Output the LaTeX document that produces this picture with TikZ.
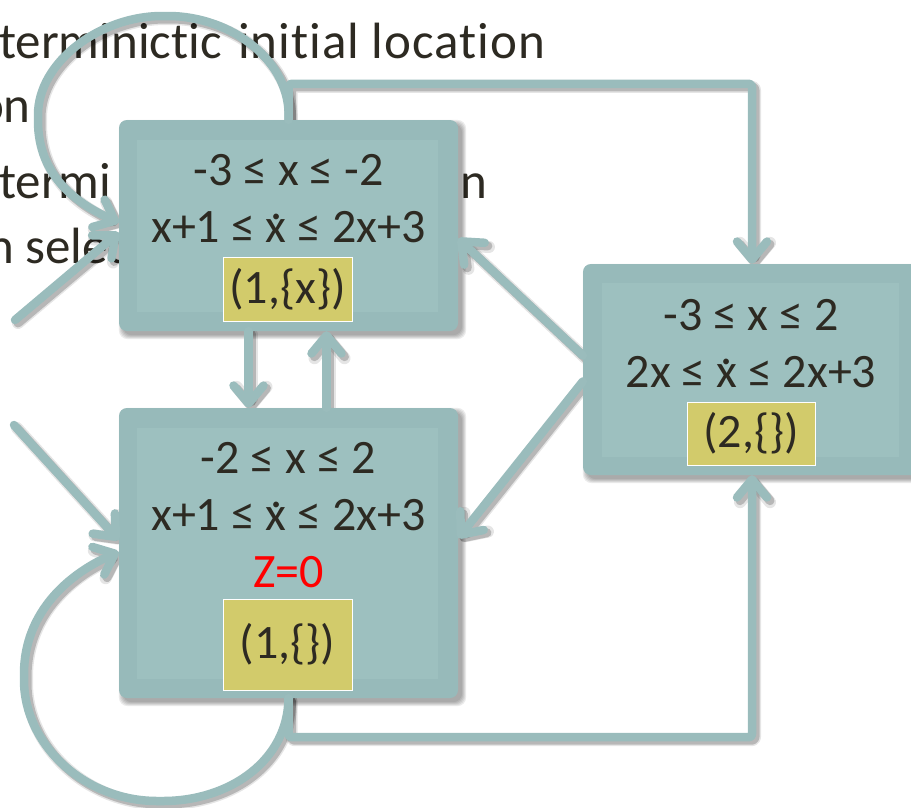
\documentclass[tikz,border=0pt]{standalone}
\usepackage{fontspec}
\setmainfont{Carlito}[Ligatures=NoCommon]
\usetikzlibrary{arrows.meta}

\definecolor{ink}{HTML}{2D2A22}
\definecolor{boxout}{HTML}{97BABA}
\definecolor{boxin}{HTML}{9DC0BF}
\definecolor{linkcol}{HTML}{9ABCBC}
\definecolor{tagfill}{HTML}{D2CB6B}
\definecolor{zred}{HTML}{FF0000}

\pgfdeclarelayer{textlayer}
\pgfdeclarelayer{shadowlayer}
\pgfsetlayers{textlayer,shadowlayer,main}

% dotted x (time derivative)
\newcommand\xd{\ooalign{x\cr\hidewidth\raisebox{0.47em}{.}\hidewidth\cr}}

% connector with a soft drop shadow underneath
\newcommand\drawlink[1]{%
  \begin{pgfonlayer}{shadowlayer}
    \draw[linkshade, line width=12pt, opacity=0.10] #1;
    \draw[linkshade, line width=9pt, opacity=0.20] #1;
  \end{pgfonlayer}
  \draw[link] #1;}

\begin{document}
\begin{tikzpicture}[x=1pt,y=-1pt,
  every node/.style={inner sep=0pt, text=ink, font=\fontsize{48}{56}\selectfont},
  bgtext/.style={font=\fontsize{51}{60}\selectfont},
  state/.style={rectangle, rounded corners=8pt, fill=boxout,
                minimum width=339pt, minimum height=211pt},
  tag/.style={rectangle, fill=tagfill, draw=white, line width=1pt,
              minimum width=129pt, minimum height=64pt},
  row/.style={anchor=base},
  tipshape/.style={-{Straight Barb[length=18pt,width=30pt,round]}},
  link/.style={draw=linkcol, line width=8.5pt, line cap=round,
               line join=round, rounded corners=3pt, tipshape},
  linkshade/.style={draw=black, line cap=round, line join=round,
               rounded corners=3pt, tipshape,
               transform canvas={xshift=3pt,yshift=-3pt}}
]
\useasboundingbox (0,0) rectangle (911,807);

% slide text lying behind the automaton
\begin{pgfonlayer}{textlayer}
  \node[bgtext, anchor=base west] (t1a) at (-1,58) {terminictic};
  \node[bgtext, anchor=base west] (t1b) at (238,58)
       {\addfontfeature{LetterSpace=2.0}initial location};
  \node[bgtext, anchor=base east] (t2) at (31,122) {on};
  \node[bgtext, anchor=base west] (t3a) at (-1,198) {termi};
  \node[bgtext, anchor=base east] (t3b) at (487,198) {n};
  \node[bgtext, anchor=base west] (t4) at (-13,263) {n selec};
\end{pgfonlayer}

% locations
\node[state] (A) at (288.5,225.5) {};
\fill[boxin] ([shift={(18pt,-20pt)}]A.north west) rectangle ([shift={(-20pt,19pt)}]A.south east);
\node[row] (A1) at (288.5,185) {-3 ≤ x ≤ -2};
\node[row] (A2) at (288.5,242) {x+1 ≤ \xd{} ≤ 2x+3};
\node[tag] (At) at (287.5,289) {(1,\{x\})};

\node[state, minimum height=290pt] (B) at (288.5,553) {};
\fill[boxin] ([shift={(18pt,-20pt)}]B.north west) rectangle ([shift={(-20pt,19pt)}]B.south east);
\node[row] (B1) at (288.5,473) {-2 ≤ x ≤ 2};
\node[row] (B2) at (288.5,530) {x+1 ≤ \xd{} ≤ 2x+3};
\node[row, text=zred] (B3) at (288.5,587) {Z=0};
\node[tag, minimum height=91pt] (Bt) at (287.5,644.5) {(1,\{\})};

\node[state, minimum width=336pt] (C) at (751,369.5) {};
\fill[boxin] ([shift={(19pt,-19pt)}]C.north west) rectangle ([shift={(-20pt,18pt)}]C.south east);
\node[row] (C1) at (751,330) {-3 ≤ x ≤ 2};
\node[row] (C2) at (751,387) {2x ≤ \xd{} ≤ 2x+3};
\node[tag, minimum width=128pt, minimum height=63pt] (Ct) at (751,433.5) {(2,\{\})};

% soft shadows of the locations
\begin{pgfonlayer}{shadowlayer}
  \foreach \n in {A,B,C} {
    \foreach \s in {0,1,2,3,4} {
      \fill[black, opacity=0.08, rounded corners=9pt]
        ([shift={(4pt-\s pt,-4pt+\s pt)}]\n.north west) rectangle
        ([shift={(4pt+\s pt,-4pt-\s pt)}]\n.south east);
    }
  }
\end{pgfonlayer}

% entry points of the initial edges
\coordinate (iA) at (15,320);
\coordinate (iB) at (14,425);

% transitions
\drawlink{(iA) -- ([yshift=-7pt]A.west)}
\drawlink{(iB) -- ([yshift=13pt]B.west)}
\drawlink{(A.north) .. controls (292,62) and (232,16) .. (165,16)
          .. controls (100,16) and (38,62) .. (38,118)
          .. controls (38,178) and (80,205) .. ([yshift=3pt]A.west)}
\drawlink{(B.south) .. controls (288,760) and (230,801) .. (160,801)
          .. controls (85,801) and (24,745) .. (24,677)
          .. controls (24,610) and (72,572) .. ([yshift=1pt]B.west)}
\drawlink{([xshift=-40pt]A.south) -- ([xshift=-40pt]B.north)}
\drawlink{([xshift=38pt]B.north) -- ([xshift=38pt]A.south)}
\drawlink{(A.north) -- ++(0pt,36pt) -| ([xshift=1pt]C.north)}
\drawlink{(B.south) -- ++(0pt,-39pt) -| ([xshift=1pt]C.south)}
\drawlink{([yshift=14pt]C.west) -- ([yshift=-13pt]A.east)}
\drawlink{([yshift=-12pt]C.west) -- ([yshift=15pt]B.east)}
\end{tikzpicture}
\end{document}
